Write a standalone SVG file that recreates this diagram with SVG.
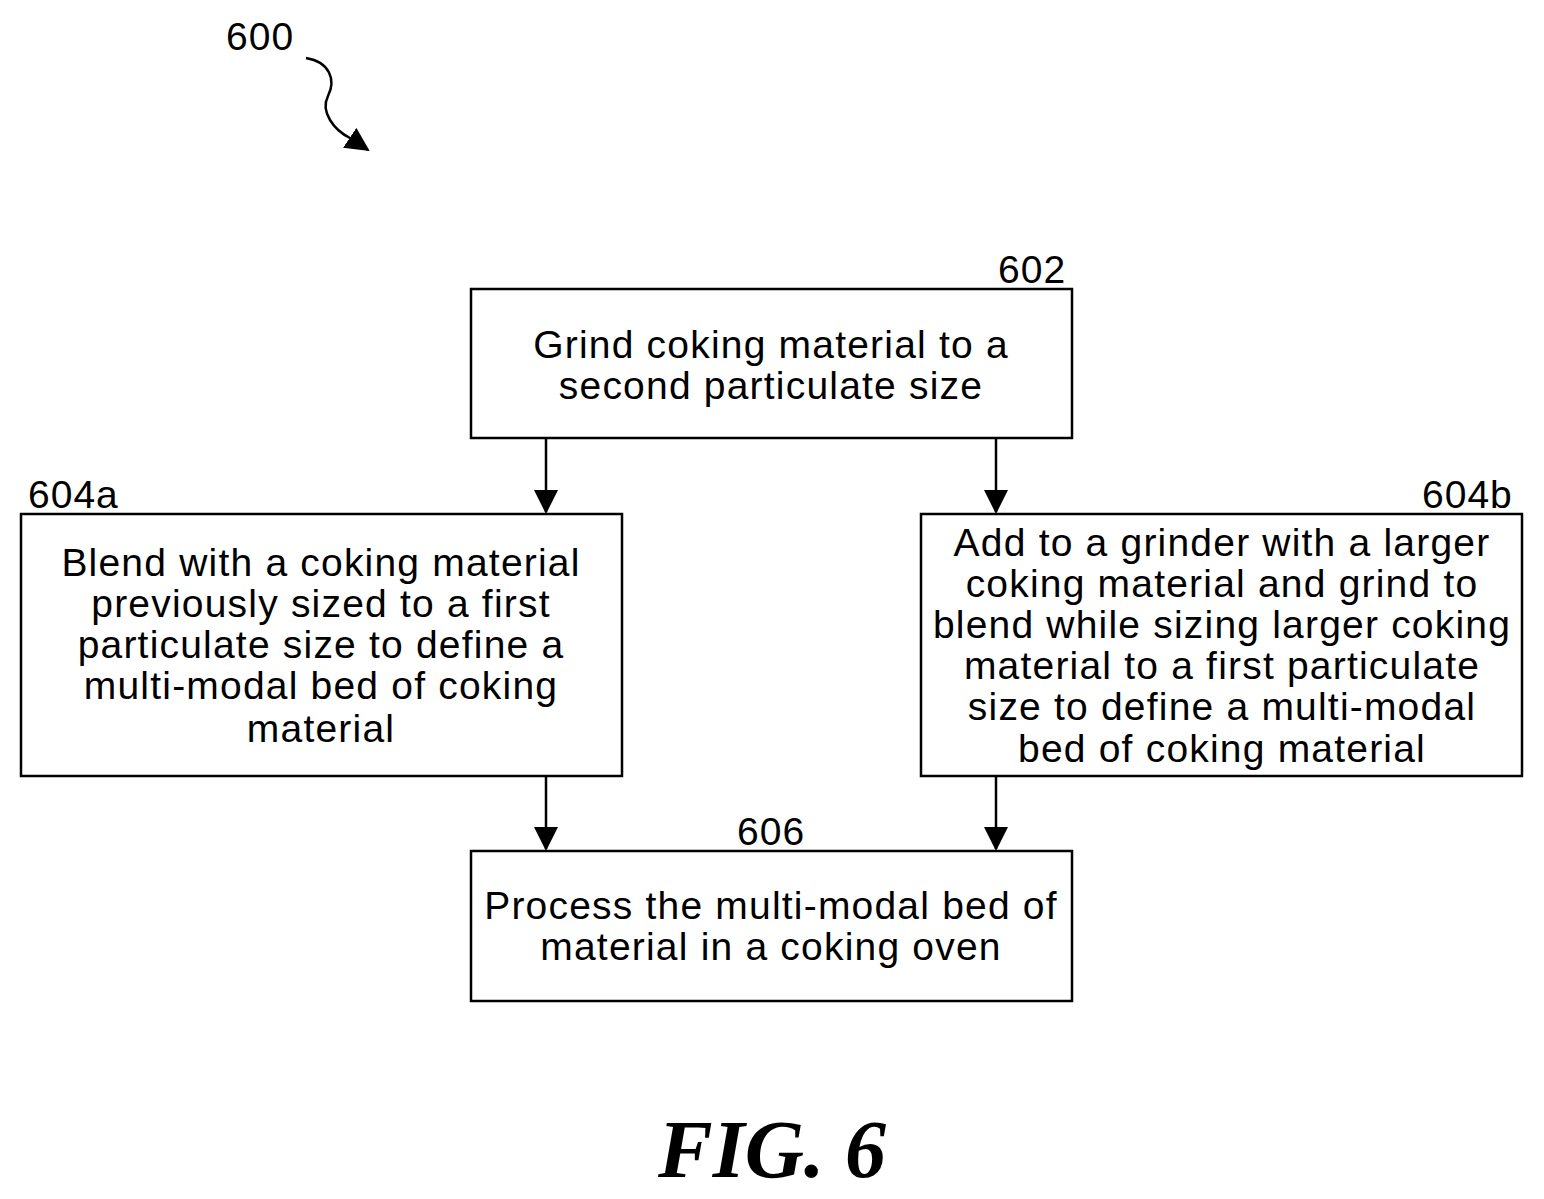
<svg xmlns="http://www.w3.org/2000/svg" width="1544" height="1199" viewBox="0 0 1544 1199">
<style>
.b{fill:#fff;stroke:#000;stroke-width:2.5}
.t{font-family:"Liberation Sans",Arial,sans-serif;font-size:39px;letter-spacing:1.2px;text-anchor:middle;fill:#000}
.l{font-family:"Liberation Sans",Arial,sans-serif;font-size:39px;letter-spacing:1px;fill:#000}
.c{stroke:#000;stroke-width:2.5;fill:none}
</style>
<defs>
<marker id="m" viewBox="0 0 24 24" refX="22" refY="12" markerWidth="24" markerHeight="24" markerUnits="userSpaceOnUse" orient="auto"><path d="M0,0 L24,12 L0,24 z" fill="#000"/></marker></defs>
<rect width="1544" height="1199" fill="#fff"/>
<text class="l" x="226" y="50">600</text>
<path class="c" d="M306,58 C330,62 336,80 328,96 C320,112 334,130 350,138 L368,150" marker-end="url(#m)"/>
<g id="n602"><rect class="b" x="471" y="289" width="601" height="149"/><text class="l" x="998" y="283">602</text><text class="t" x="771" y="358">Grind coking material to a</text><text class="t" x="771" y="399">second particulate size</text></g>
<g id="n604a"><rect class="b" x="21" y="514" width="601" height="262"/><text class="l" x="28" y="508">604a</text><text class="t" x="321" y="576">Blend with a coking material</text><text class="t" x="321" y="617">previously sized to a first</text><text class="t" x="321" y="658">particulate size to define a</text><text class="t" x="321" y="699">multi-modal bed of coking</text><text class="t" x="321" y="742">material</text></g>
<g id="n604b"><rect class="b" x="921" y="514" width="601" height="262"/><text class="l" x="1422" y="508">604b</text><text class="t" x="1222" y="556">Add to a grinder with a larger</text><text class="t" x="1222" y="597">coking material and grind to</text><text class="t" x="1222" y="638">blend while sizing larger coking</text><text class="t" x="1222" y="679">material to a first particulate</text><text class="t" x="1222" y="720">size to define a multi-modal</text><text class="t" x="1222" y="762">bed of coking material</text></g>
<g id="n606"><rect class="b" x="471" y="851" width="601" height="150"/><text class="l" x="737" y="845">606</text><text class="t" x="771" y="919">Process the multi-modal bed of</text><text class="t" x="771" y="960">material in a coking oven</text></g>
<g id="connectors">
<line class="c" x1="546" y1="438" x2="546" y2="512" marker-end="url(#m)"/>
<line class="c" x1="996" y1="438" x2="996" y2="512" marker-end="url(#m)"/>
<line class="c" x1="546" y1="776" x2="546" y2="849" marker-end="url(#m)"/>
<line class="c" x1="996" y1="776" x2="996" y2="849" marker-end="url(#m)"/>
</g>
<text x="772" y="1177" font-family="Liberation Serif,serif" font-size="82" font-weight="bold" font-style="italic" text-anchor="middle">FIG. 6</text>
</svg>
